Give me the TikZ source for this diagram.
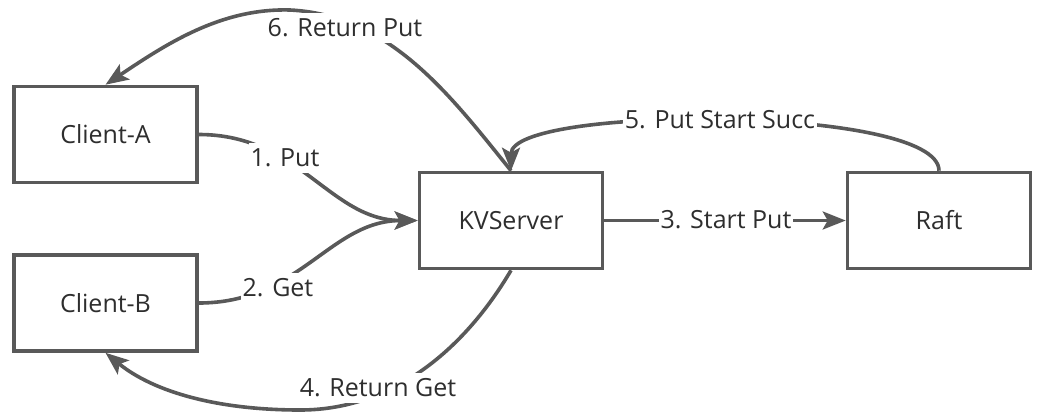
\documentclass[tikz,border=0pt]{standalone}
\usepackage{fontspec}
\setmainfont{Open Sans}
\usetikzlibrary{arrows.meta}
\definecolor{ln}{HTML}{595959}
\definecolor{tx}{HTML}{2E2E2E}
\begin{document}
\begin{tikzpicture}[x=1pt,y=-1pt,
  box/.style={draw=ln, line width=3.6pt, minimum width=183pt, minimum height=96pt, text=tx, font=\fontsize{25}{30}\selectfont, inner sep=0pt},
  edge/.style={draw=ln, line width=3.6pt, -{Stealth[length=23pt,width=18pt,inset=5pt]}},
  lbl/.style={fill=white, text=tx, font=\fontsize{25}{30}\selectfont, inner xsep=2pt, inner ysep=6pt}]
\fill[white] (0,0) rectangle (1048,418);
\useasboundingbox (0,0) rectangle (1048,418);
\node[box] (ca) at (105.5,134.5) {Client-A};
\node[box] (cb) at (105.5,303) {Client-B};
\node[box] (ks) at (511,220.5) {KVServer};
\node[box] (rf) at (939,220.5) {Raft};
\coordinate (w6) at (290,10);
\coordinate (w4) at (300,410);
\draw[edge] (ca.east) .. controls (300,134.5) and (330,220.5) .. (ks.west);
\draw[edge] (cb.east) .. controls (300,303) and (330,220.5) .. (ks.west);
\draw[edge] (ks.east) -- (rf.west);
\draw[edge] (rf.north) .. controls (939,105) and (511,105) .. (ks.north);
\draw[edge] (ks.north) .. controls (450,95) and (390,15) .. (w6) .. controls (220,8) and (165,45) .. (ca.north);
\draw[edge] (ks.south) .. controls (470,340) and (400,410) .. (w4) .. controls (220,410) and (155,393) .. (cb.south);
\node[lbl] (l6) at (345,28) {6. Return Put};
\node[lbl] (l1) at (285,158) {1. Put};
\node[lbl] (l2) at (278,288) {2. Get};
\node[lbl] (l3) at (726,220) {3. Start Put};
\node[lbl] (l5) at (720,120) {5. Put Start Succ};
\node[lbl] (l4) at (378,388) {4. Return Get};
\end{tikzpicture}
\end{document}
